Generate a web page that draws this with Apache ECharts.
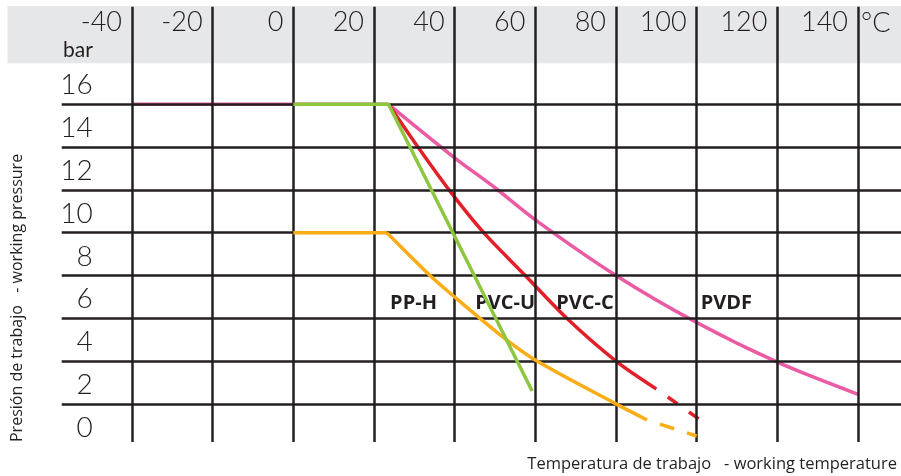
<!DOCTYPE html>
<html><head><meta charset="utf-8">
<script src="https://cdn.jsdelivr.net/npm/echarts@6/dist/echarts.min.js"></script>
<style>html,body{margin:0;padding:0;background:#fff}#c{width:901px;height:476px}</style>
</head><body><div id="c"></div>
<script>
// ---- data ----
const tempTicks = [-40, -20, 0, 20, 40, 60, 80, 100, 120, 140];
const barTicks  = [0, 2, 4, 6, 8, 10, 12, 14, 16];
const gridBars  = [2, 4, 6, 8, 10, 12, 14, 16];

const pvdfTemp = [-40, 23.6, 40, 50, 60, 80, 100, 120, 140];
const pvdfBar  = [16, 16, 13.5, 12.1, 10.6, 8.0, 5.8, 3.95, 2.45];

const pvcuTemp = [0, 23.6, 59.2];
const pvcuBar  = [16, 16, 2.6];

const pvccTemp = [23.6, 30.9, 38.6, 47.2, 57.5, 67.8, 80, 90, 100.5];
const pvccBar  = [16, 14, 12, 10, 8, 6, 4, 2.7, 1.3];

const pphTemp = [0, 23.2, 33.9, 38.9, 50.8, 60, 80, 87.7, 100];
const pphBar  = [10, 10, 8, 7.17, 5.3, 4.05, 2, 1.25, 0.5];

const labelNames = ['PP-H', 'PVC-U', 'PVC-C', 'PVDF'];
const labelTemp  = [24, 45.1, 65.2, 101];
const labelBar   = [6.7, 6.7, 6.7, 6.7];

// ---- layout ----
const X_MIN = -57.43, X_MAX = 150.67;
const Y_MIN = 0, Y_MAX = 20.56, Y_LINE_LOW = 0.22;
const INK = '#231f20';
const C_PINK = '#ea5ba3', C_RED = '#e3202a', C_GREEN = '#8dc63f', C_ORANGE = '#fbad18';
const TICK_FONT = 'Lato';

function pts(t, b, from, to) {
  const out = [];
  for (let i = from; i <= to; i++) out.push([t[i], b[i]]);
  return out;
}
function lineSeries(name, data, color, smooth, dash, z) {
  const ls = { color: color, width: 3.5, cap: 'butt' };
  if (dash) { ls.type = dash.pattern; ls.dashOffset = dash.offset; }
  return {
    name: name, type: 'line', data: data, smooth: smooth,
    symbol: 'none', lineStyle: ls, z: z, silent: true, animation: false
  };
}

const vLines = tempTicks.map(v => [{ xAxis: v, yAxis: Y_LINE_LOW }, { xAxis: v, yAxis: Y_MAX }]);
const hLines = gridBars.map(v => ({ yAxis: v }));

const chart = echarts.init(document.getElementById('c'), null, { renderer: 'canvas' });
chart.setOption({
  animation: false,
  backgroundColor: '#fff',
  grid: { left: 61.7, right: 0, top: 6.7, bottom: 29.3, containLabel: false },
  xAxis: {
    type: 'value', position: 'top', min: X_MIN, max: X_MAX,
    axisLine: { show: false }, axisTick: { show: false }, splitLine: { show: false },
    axisLabel: {
      customValues: tempTicks, inside: true, margin: 16, align: 'right', verticalAlign: 'middle',
      padding: [0, 10, 0, 0], fontFamily: TICK_FONT, fontWeight: 300, fontSize: 27, color: INK
    }
  },
  yAxis: {
    type: 'value', min: Y_MIN, max: Y_MAX,
    axisLine: { show: false }, axisTick: { show: false }, splitLine: { show: false },
    axisLabel: {
      customValues: barTicks, inside: true, margin: 31, align: 'right', verticalAlign: 'bottom',
      lineHeight: 28, padding: [0, 0, 5, 0], fontFamily: TICK_FONT, fontWeight: 300, fontSize: 28, color: INK
    }
  },
  graphic: [
    { type: 'rect', z: 0, silent: true, shape: { x: 7.5, y: 6, width: 894, height: 57.3 }, style: { fill: '#e6e7e8' } },
    { type: 'text', z: 5, silent: true, x: 63, y: 50, style: { text: 'bar', font: '400 21px ' + TICK_FONT, fill: INK, textAlign: 'left', textVerticalAlign: 'middle' } },
    { type: 'text', z: 5, silent: true, x: 861, y: 23, style: { text: '°C', font: '300 27px ' + TICK_FONT, fill: INK, textAlign: 'left', textVerticalAlign: 'middle' } },
    { type: 'text', z: 5, silent: true, x: 17, y: 442, rotation: Math.PI / 2, style: { text: 'Presión de trabajo   - working pressure', font: '16px "Open Sans"', fill: INK, textAlign: 'left', textVerticalAlign: 'middle' } },
    { type: 'text', z: 5, silent: true, x: 897, y: 464, style: { text: 'Temperatura de trabajo   - working temperature', font: '16.5px "Open Sans"', fill: INK, textAlign: 'right', textVerticalAlign: 'middle' } }
  ],
  series: [
    {
      name: 'grid', type: 'line', data: [], z: 1, silent: true, animation: false,
      markLine: {
        silent: true, animation: false, symbol: ['none', 'none'],
        label: { show: false }, emphasis: { disabled: true },
        lineStyle: { color: INK, width: 2.5, type: 'solid' },
        data: vLines.concat(hLines)
      },
      markPoint: {
        silent: true, animation: false, symbol: 'circle', symbolSize: 0,
        itemStyle: { color: 'rgba(0,0,0,0)' },
        label: {
          show: true, position: 'right', distance: 0, formatter: p => p.name,
          fontFamily: '"Open Sans"', fontWeight: 'bold', fontSize: 20, color: INK
        },
        data: labelNames.map((n, i) => ({ name: n, coord: [labelTemp[i], labelBar[i]] }))
      }
    },
    lineSeries('PVDF', pts(pvdfTemp, pvdfBar, 0, 1), C_PINK, false, null, 3),
    lineSeries('PVDF', pts(pvdfTemp, pvdfBar, 1, pvdfTemp.length - 1), C_PINK, 0.3, null, 3),
    lineSeries('PVC-C', pts(pvccTemp, pvccBar, 0, 7), C_RED, 0.3, null, 4),
    lineSeries('PVC-C', pts(pvccTemp, pvccBar, 7, 8), C_RED, false, { pattern: [12, 14], offset: 12 }, 4),
    lineSeries('PP-H', pts(pphTemp, pphBar, 0, 1), C_ORANGE, false, null, 5),
    lineSeries('PP-H', pts(pphTemp, pphBar, 1, 7), C_ORANGE, 0.3, null, 5),
    lineSeries('PP-H', pts(pphTemp, pphBar, 7, 8), C_ORANGE, false, { pattern: [15, 13.5], offset: 15 }, 5),
    lineSeries('PVC-U', pts(pvcuTemp, pvcuBar, 0, 2), C_GREEN, false, null, 6)
  ]
});
</script>
</body></html>
